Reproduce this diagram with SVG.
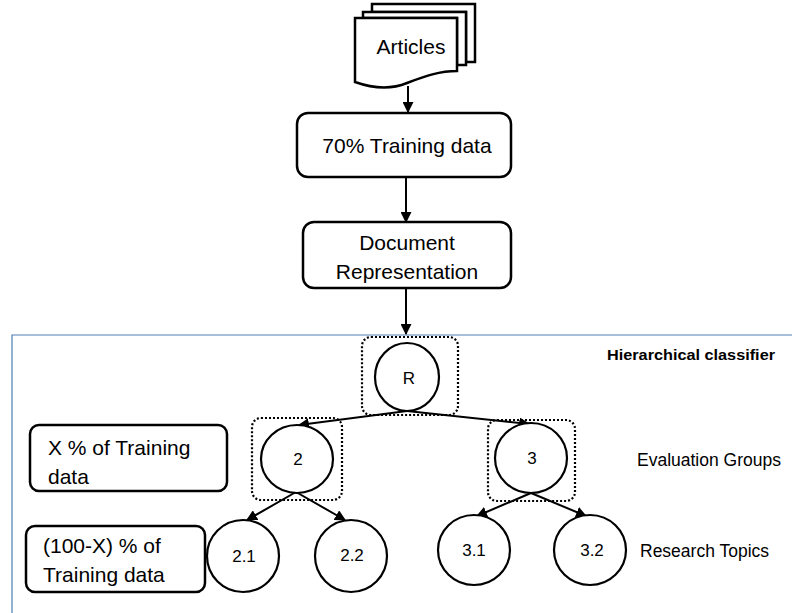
<svg xmlns="http://www.w3.org/2000/svg" width="792" height="613" viewBox="0 0 792 613">
  <style>
    .box { fill: #ffffff; stroke: #000000; stroke-width: 2.5; }
    .doc { fill: #ffffff; stroke: #000000; stroke-width: 2.5; stroke-linejoin: miter; }
    .node { fill: #ffffff; stroke: #000000; stroke-width: 2.2; }
    .group { fill: none; stroke: #000000; stroke-width: 2.2; stroke-dasharray: 2 2; }
    .edge { fill: none; stroke: #000000; stroke-width: 2; marker-end: url(#arrow); }
    .t { font-family: "Liberation Sans", Arial, sans-serif; fill: #000000; }
    .big { font-size: 21px; }
    .mid { font-size: 17px; }
    .lbl { font-size: 17.5px; }
  </style>
  <defs>
    <marker id="arrow" viewBox="0 0 10 10" refX="9" refY="5" markerWidth="5.5" markerHeight="5.5" orient="auto" markerUnits="strokeWidth">
      <path d="M0,0 L10,5 L0,10 z" fill="#000000"/>
    </marker>
  </defs>

  <rect width="792" height="613" fill="#ffffff"/>

  <!-- classifier frame -->
  <path d="M792,335 H12 V613" fill="none" stroke="#4f7eb3" stroke-width="1.2"/>
  <text class="t" x="607" y="360" font-size="15.5" font-weight="bold" textLength="168" lengthAdjust="spacingAndGlyphs">Hierarchical classifier</text>

  <!-- connectors -->
  <g id="connectors">
    <line class="edge" x1="408" y1="86" x2="408" y2="112"/>
    <line class="edge" x1="406" y1="177" x2="406" y2="222"/>
    <line class="edge" x1="406" y1="288" x2="406" y2="334"/>
    <line class="edge" x1="407" y1="411" x2="299" y2="425"/>
    <line class="edge" x1="407" y1="411" x2="529" y2="424"/>
    <line class="edge" x1="296" y1="492" x2="247" y2="520"/>
    <line class="edge" x1="296" y1="492" x2="345" y2="520"/>
    <line class="edge" x1="531" y1="493" x2="477" y2="516"/>
    <line class="edge" x1="531" y1="493" x2="586" y2="516"/>
  </g>

  <!-- articles: stacked documents -->
  <g id="articles">
    <path class="doc" d="M372,4 H475 V62 H466 V12 H372 Z"/>
    <path class="doc" d="M363,12 H466 V65 H457 V18 H363 Z"/>
    <path class="doc" d="M355,18 H457 V71 C440,71 425,76 407,83 C390,90 372,88 355,82 Z"/>
    <text class="t big" x="411" y="54" text-anchor="middle">Articles</text>
  </g>

  <g id="training">
    <rect class="box" x="297" y="113" width="214" height="64" rx="11"/>
    <text class="t big" x="407" y="153" text-anchor="middle">70% Training data</text>
  </g>

  <g id="representation">
    <rect class="box" x="303" y="222" width="208" height="66" rx="11"/>
    <text class="t big" x="407" y="250" text-anchor="middle">Document</text>
    <text class="t big" x="407" y="279" text-anchor="middle">Representation</text>
  </g>

  <g id="node-R">
    <rect class="group" x="362" y="337" width="96" height="78" rx="9"/>
    <ellipse class="node" cx="407" cy="377" rx="32" ry="34"/>
    <text class="t mid" x="409" y="384" text-anchor="middle">R</text>
  </g>

  <g id="node-2">
    <rect class="group" x="252" y="418" width="90" height="82" rx="9"/>
    <ellipse class="node" cx="297" cy="459" rx="36" ry="34"/>
    <text class="t mid" x="298" y="465" text-anchor="middle">2</text>
  </g>

  <g id="node-3">
    <rect class="group" x="488" y="420" width="87" height="81" rx="9"/>
    <ellipse class="node" cx="531" cy="458" rx="36" ry="35"/>
    <text class="t mid" x="532" y="464" text-anchor="middle">3</text>
  </g>

  <g id="node-2-1">
    <ellipse class="node" cx="243" cy="556" rx="36" ry="36"/>
    <text class="t mid" x="244" y="562" text-anchor="middle">2.1</text>
  </g>
  <g id="node-2-2">
    <ellipse class="node" cx="351" cy="556" rx="36" ry="36"/>
    <text class="t mid" x="352" y="561" text-anchor="middle">2.2</text>
  </g>
  <g id="node-3-1">
    <ellipse class="node" cx="474" cy="550" rx="36" ry="35"/>
    <text class="t mid" x="474" y="556" text-anchor="middle">3.1</text>
  </g>
  <g id="node-3-2">
    <ellipse class="node" cx="590" cy="550" rx="36" ry="35"/>
    <text class="t mid" x="592" y="556" text-anchor="middle">3.2</text>
  </g>

  <g id="label-groups">
    <text class="t lbl" x="637" y="466">Evaluation Groups</text>
  </g>
  <g id="label-topics">
    <text class="t lbl" x="640" y="557">Research Topics</text>
  </g>

  <g id="split-x">
    <rect class="box" x="30" y="425" width="197" height="66" rx="9"/>
    <text class="t big" x="48" y="455">X % of Training</text>
    <text class="t big" x="48" y="484">data</text>
  </g>

  <g id="split-rest">
    <rect class="box" x="26" y="526" width="179" height="66" rx="9"/>
    <text class="t big" x="43" y="553">(100-X) % of</text>
    <text class="t big" x="43" y="582">Training data</text>
  </g>
</svg>
